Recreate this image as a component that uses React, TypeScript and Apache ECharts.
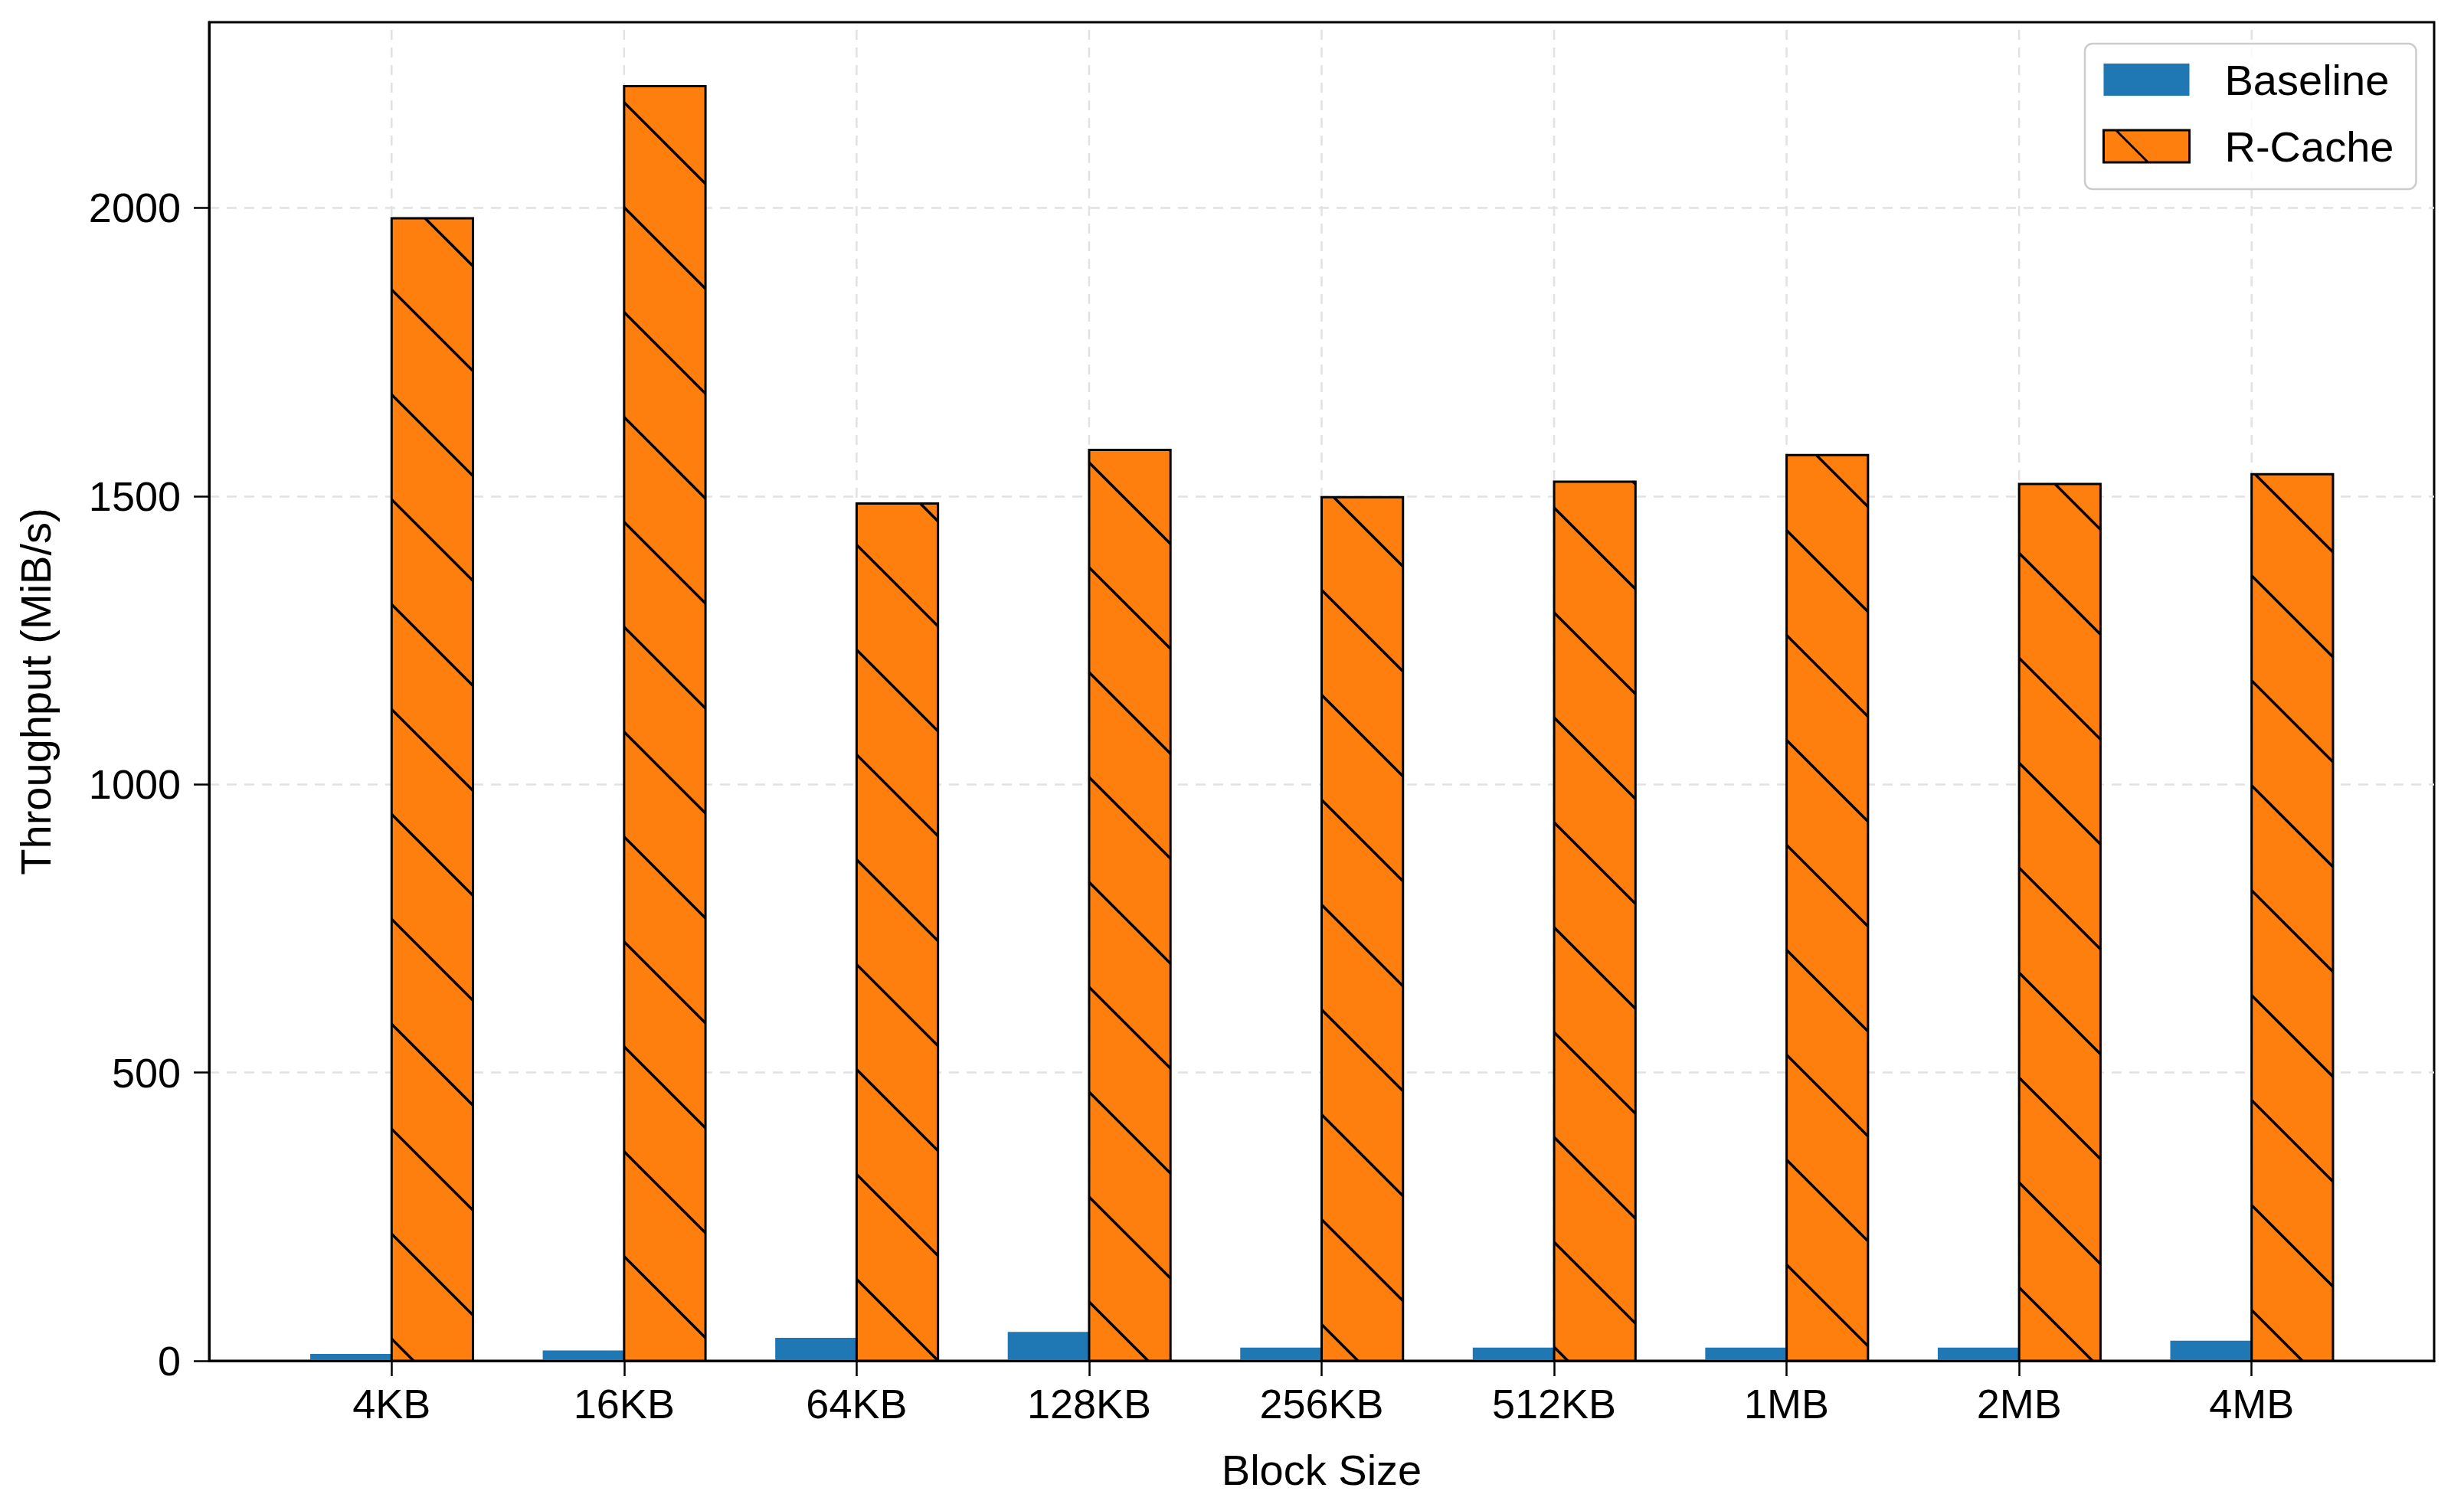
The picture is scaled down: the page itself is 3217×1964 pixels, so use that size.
import React, { useEffect, useRef } from "react";
import * as echarts from "echarts";

const categories = ["4KB", "16KB", "64KB", "128KB", "256KB", "512KB", "1MB", "2MB", "4MB"];
const baselineValues = [12, 18, 40, 50, 23, 23, 23, 23, 35];
const rcacheValues = [1982, 2211, 1487, 1580, 1498, 1525, 1571, 1521, 1538];
const yTicks = [0, 500, 1000, 1500, 2000];
const seriesNames = ["Baseline", "R-Cache"];
const xTitle = "Block Size";
const yTitle = "Throughput (MiB/s)";

const Y_MAX = 2322;
const X_MIN = -0.785;
const X_MAX = 8.785;
const BAR_W = 0.35;
const HATCH_PERIOD = 137;
const HATCH_PHASE = 4;
const FONT = '"Liberation Sans", Arial, Helvetica, sans-serif';
const BLUE = "#1f77b4";
const ORANGE = "#ff7f0e";
const GRID_COLOR = "#e2e2e2";

function makeBarRenderer(offset: number, color: string, hatched: boolean) {
  return (params: any, api: any) => {
    const i = api.value(0);
    const v = api.value(1);
    const tl = api.coord([i + offset, v]);
    const br = api.coord([i + offset + BAR_W, 0]);
    const x0 = tl[0], y0 = tl[1], x1 = br[0], y1 = br[1];
    const children: any[] = [
      { type: "rect", shape: { x: x0, y: y0, width: x1 - x0, height: y1 - y0 }, style: { fill: color } },
    ];
    if (hatched) {
      const kStart = Math.floor((y0 - x1 - HATCH_PHASE) / HATCH_PERIOD) - 1;
      const kEnd = Math.ceil((y1 - x0 - HATCH_PHASE) / HATCH_PERIOD) + 1;
      for (let k = kStart; k <= kEnd; k++) {
        const c = HATCH_PHASE + k * HATCH_PERIOD;
        const xs = Math.max(x0, y0 - c);
        const xe = Math.min(x1, y1 - c);
        if (xe - xs > 0.5) {
          children.push({
            type: "line",
            shape: { x1: xs, y1: xs + c, x2: xe, y2: xe + c },
            style: { stroke: "#000", lineWidth: 3.5 },
          });
        }
      }
      children.push({
        type: "rect",
        shape: { x: x0, y: y0, width: x1 - x0, height: y1 - y0 },
        style: { fill: "none", stroke: "#000", lineWidth: 3 },
      });
    }
    return { type: "group", children };
  };
}

export default function App() {
  const ref = useRef<HTMLDivElement>(null);
  useEffect(() => {
    document.body.style.margin = "0";
    if (!ref.current) return;
    const chart = echarts.init(ref.current, null, { renderer: "svg" });
    const idx = categories.map((_, i) => i);
    const textBase = { color: "#000", fontFamily: FONT };
    chart.setOption({
      animation: false,
      backgroundColor: "#fff",
      grid: {
        left: 273,
        right: 39,
        top: 29,
        bottom: 187,
        show: true,
        borderColor: "#000",
        borderWidth: 3,
        backgroundColor: "#fff",
      },
      legend: {
        orient: "vertical",
        left: 2722,
        top: 57,
        padding: [14, 29, 23, 23],
        itemWidth: 112,
        itemHeight: 42,
        itemGap: 21,
        borderColor: "#cccccc",
        borderWidth: 2.5,
        borderRadius: 10,
        backgroundColor: "rgba(255,255,255,0.8)",
        textStyle: { ...textBase, fontSize: 56, lineHeight: 66, padding: [0, 0, 0, 41] },
        data: [
          { name: seriesNames[0], icon: "rect", itemStyle: { color: BLUE, borderWidth: 0 } },
          {
            name: seriesNames[1],
            icon: "path://M0,0 L112,0 L112,42 L0,42 Z M16,0 L58,42",
            itemStyle: { color: ORANGE, borderColor: "#000", borderWidth: 3 },
          },
        ],
      },
      xAxis: [
        {
          type: "value",
          min: X_MIN,
          max: X_MAX,
          name: xTitle,
          nameLocation: "middle",
          nameGap: 114,
          nameTextStyle: { ...textBase, fontSize: 56 },
          axisLine: { show: true, onZero: false, lineStyle: { color: "#000", width: 3 } },
          axisTick: { show: true, customValues: idx, length: 20, lineStyle: { color: "#000", width: 2.5 } },
          axisLabel: {
            customValues: idx,
            formatter: (v: number) => categories[Math.round(v)],
            fontSize: 54,
            margin: 29,
            ...textBase,
          },
          splitLine: { show: false },
        },
        {
          type: "value",
          min: X_MIN,
          max: X_MAX,
          position: "bottom",
          z: 10,
          axisLine: { show: true, onZero: false, lineStyle: { color: "#000", width: 3 } },
          axisTick: { show: false },
          axisLabel: { show: false },
          splitLine: { show: false },
        },
      ],
      yAxis: {
        type: "value",
        min: 0,
        max: Y_MAX,
        name: yTitle,
        nameLocation: "middle",
        nameGap: 199,
        nameRotate: 90,
        nameTextStyle: { ...textBase, fontSize: 56 },
        axisLine: { show: true, onZero: false, lineStyle: { color: "#000", width: 3 } },
        axisTick: { show: true, customValues: yTicks, length: 20, lineStyle: { color: "#000", width: 2.5 } },
        axisLabel: {
          customValues: yTicks,
          formatter: (v: number) => String(v),
          fontSize: 54,
          margin: 37,
          ...textBase,
        },
        splitLine: { show: true, lineStyle: { color: GRID_COLOR, width: 2.5, type: [13, 10] } },
      },
      series: [
        {
          name: "vgrid",
          type: "custom",
          z: 1,
          silent: true,
          data: idx.map((i) => [i, Y_MAX]),
          renderItem: (params: any, api: any) => {
            const i = api.value(0);
            const a = api.coord([i, 0]);
            const b = api.coord([i, api.value(1)]);
            return {
              type: "line",
              shape: { x1: a[0], y1: a[1], x2: b[0], y2: b[1] },
              style: { stroke: GRID_COLOR, lineWidth: 2.5, lineDash: [13, 10] },
            };
          },
        },
        {
          name: seriesNames[0],
          type: "custom",
          z: 2,
          itemStyle: { color: BLUE },
          data: baselineValues.map((v, i) => [i, v]),
          encode: { x: 0, y: 1 },
          renderItem: makeBarRenderer(-BAR_W, BLUE, false),
        },
        {
          name: seriesNames[1],
          type: "custom",
          z: 3,
          itemStyle: { color: ORANGE, borderColor: "#000", borderWidth: 3 },
          data: rcacheValues.map((v, i) => [i, v]),
          encode: { x: 0, y: 1 },
          renderItem: makeBarRenderer(0, ORANGE, true),
        },
      ],
    });
    return () => chart.dispose();
  }, []);
  return <div ref={ref} style={{ width: 3217, height: 1964 }} />;
}
